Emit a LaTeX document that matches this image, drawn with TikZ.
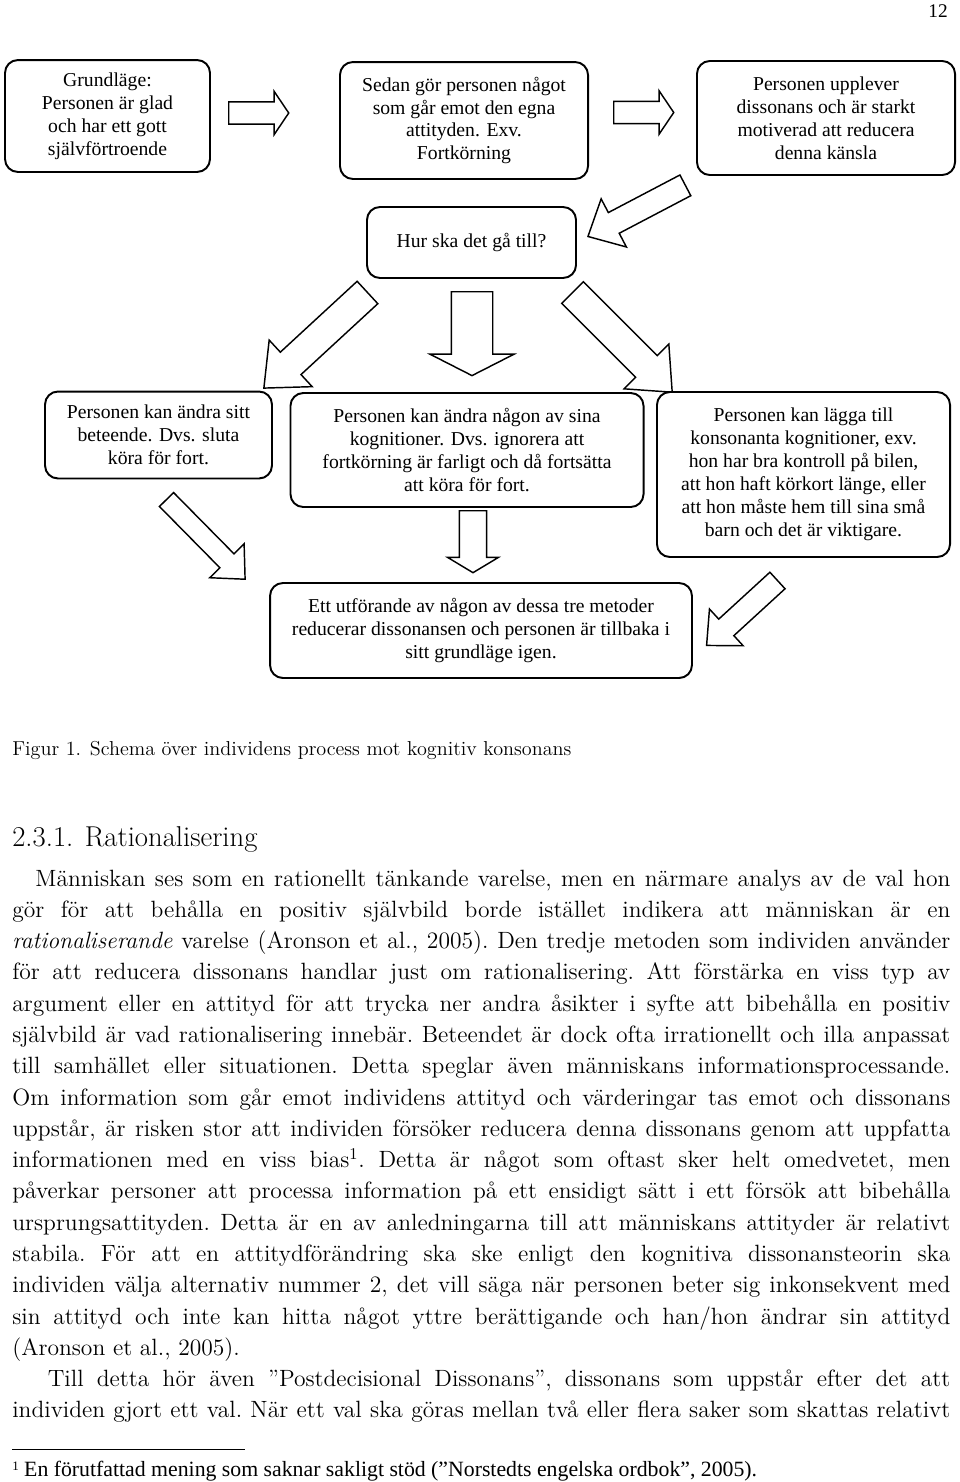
\documentclass[tikz,border=0pt]{standalone}
\usepackage{fontspec}
\newfontfamily\tnr{Liberation Serif}
\usepackage{tikz}
\usetikzlibrary{shapes.arrows}

\tikzset{
    box/.style 2 args={rectangle, rounded corners=8pt, draw, line width=1.2pt, fill=white,
        minimum width=#1, minimum height=#2, align=center, inner sep=2pt,
        font=\tnr\fontsize{12.2}{14.2}\selectfont},
    blk/.style n args={4}{single arrow, draw, line width=0.9pt, inner xsep=0pt, anchor=tail,
        rotate=#1, minimum height=#2, inner ysep=#3, single arrow head extend=#4},
}

\begin{document}
\begin{tikzpicture}[x=0.62pt, y=-0.62pt]
    \useasboundingbox (0,0) rectangle (960,1482);

    \node[anchor=base east, inner sep=0pt, font=\tnr\fontsize{12}{14}\selectfont] (pg) at (948,18) {12};

    % schema
    \node[box={127.1pt}{69.4pt}] (1) at (107.5,116) {Grundläge:\\ Personen är glad\\ och har ett gott\\ självförtroende};
    \node[box={153.8pt}{72.5pt}] (2) at (464,120.5) {Sedan gör personen något\\ som går emot den egna\\ attityden. Exv.\\ Fortkörning};
    \node[box={160pt}{70.7pt}] (3) at (826,118) {Personen upplever\\ dissonans och är starkt\\ motiverad att reducera\\ denna känsla};
    \node[box={129.6pt}{44pt}] (4) at (471.5,242.5) {Hur ska det gå till?};
    \node[box={140.7pt}{53.9pt}] (5) at (158.5,435) {Personen kan ändra sitt\\ beteende. Dvs. sluta\\ köra för fort.};
    \node[box={218.9pt}{70.7pt}] (6) at (467,450) {Personen kan ändra någon av sina\\ kognitioner. Dvs. ignorera att\\ fortkörning är farligt och då fortsätta\\ att köra för fort.};
    \node[box={181.7pt}{102.3pt}] (7) at (803.5,474.5) {Personen kan lägga till\\ konsonanta kognitioner, exv.\\ hon har bra kontroll på bilen,\\ att hon haft körkort länge, eller\\ att hon måste hem till sina små\\ barn och det är viktigare.};
    \node[box={261.6pt}{58.9pt}] (8) at (481,630.5) {Ett utförande av någon av dessa tre metoder\\ reducerar dissonansen och personen är tillbaka i\\ sitt grundläge igen.};

    \node[blk={0}{37.2pt}{6.5pt}{6.5pt}, single arrow tip angle=112] (p1) at (228,113) {};
    \node[blk={0}{37.2pt}{6.5pt}{6.5pt}, single arrow tip angle=112] (p2) at (613,112.5) {};
    \node[blk={207.7}{68.2pt}{6.8pt}{9.6pt}, single arrow tip angle=86] (p3) at (686,185) {};
    \node[blk={222.7}{87.4pt}{9pt}{10.2pt}, single arrow tip angle=82] (p4) at (368,292) {};
    \node[blk={-90}{52pt}{12.4pt}{13.3pt}, single arrow tip angle=126] (p5) at (472,291) {};
    \node[blk={-45}{87.4pt}{9pt}{10.2pt}, single arrow tip angle=82] (p6) at (572,292) {};
    \node[blk={-45.4}{69.4pt}{5.7pt}{8.8pt}, single arrow tip angle=86] (p7) at (166,499) {};
    \node[blk={-90}{38.4pt}{8pt}{7.4pt}, single arrow tip angle=118] (p8) at (473,510) {};
    \node[blk={222.5}{59.6pt}{6.5pt}{8.5pt}, single arrow tip angle=86] (p9) at (778,580) {};

    % text under the figure
    \node[anchor=base west, inner sep=0pt, font=\fontsize{12.5}{14}\selectfont] (cap) at (12,755) {Figur 1. Schema över individens process mot kognitiv konsonans};
    \node[anchor=base west, inner sep=0pt, font=\fontsize{17.8}{20}\selectfont] (head) at (12,846) {2.3.1. Rationalisering};

    \node[anchor=base west, inner sep=0pt, text width=581.6pt, align=justify, font=\fontsize{14.6}{19.4}\selectfont] (body) at (12,886) {\frenchspacing
        \hspace*{14.3pt}Människan ses som en rationellt tänkande varelse, men en närmare analys av de val hon\linebreak
        gör för att behålla en positiv självbild borde istället indikera att människan är en\linebreak
        \textit{rationaliserande} varelse (Aronson et al., 2005). Den tredje metoden som individen använder\linebreak
        för att reducera dissonans handlar just om rationalisering. Att förstärka en viss typ av\linebreak
        argument eller en attityd för att trycka ner andra åsikter i syfte att bibehålla en positiv\linebreak
        självbild är vad rationalisering innebär. Beteendet är dock ofta irrationellt och illa anpassat\linebreak
        till samhället eller situationen. Detta speglar även människans informationsprocessande.\linebreak
        Om information som går emot individens attityd och värderingar tas emot och dissonans\linebreak
        uppstår, är risken stor att individen försöker reducera denna dissonans genom att uppfatta\linebreak
        informationen med en viss bias\textsuperscript{1}. Detta är något som oftast sker helt omedvetet, men\linebreak
        påverkar personer att processa information på ett ensidigt sätt i ett försök att bibehålla\linebreak
        ursprungsattityden. Detta är en av anledningarna till att människans attityder är relativt\linebreak
        stabila. För att en attitydförändring ska ske enligt den kognitiva dissonansteorin ska\linebreak
        individen välja alternativ nummer 2, det vill säga när personen beter sig inkonsekvent med\linebreak
        sin attityd och inte kan hitta något yttre berättigande och han/hon ändrar sin attityd\linebreak
        (Aronson et al., 2005).\par
        \hspace*{22pt}Till detta hör även ”Postdecisional Dissonans”, dissonans som uppstår efter det att\linebreak
        individen gjort ett val. När ett val ska göras mellan två eller flera saker som skattas relativt\parfillskip=0pt\par};

    \draw[line width=0.6pt] (12,1449) -- (245,1449);
    \node[anchor=base west, inner sep=0pt, font=\tnr\fontsize{13.5}{15}\selectfont] (fn) at (12,1476) {{\fontsize{8}{9}\selectfont\raisebox{0.45em}{1}} En förutfattad mening som saknar sakligt stöd (”Norstedts engelska ordbok”, 2005).};

\end{tikzpicture}
\end{document}
